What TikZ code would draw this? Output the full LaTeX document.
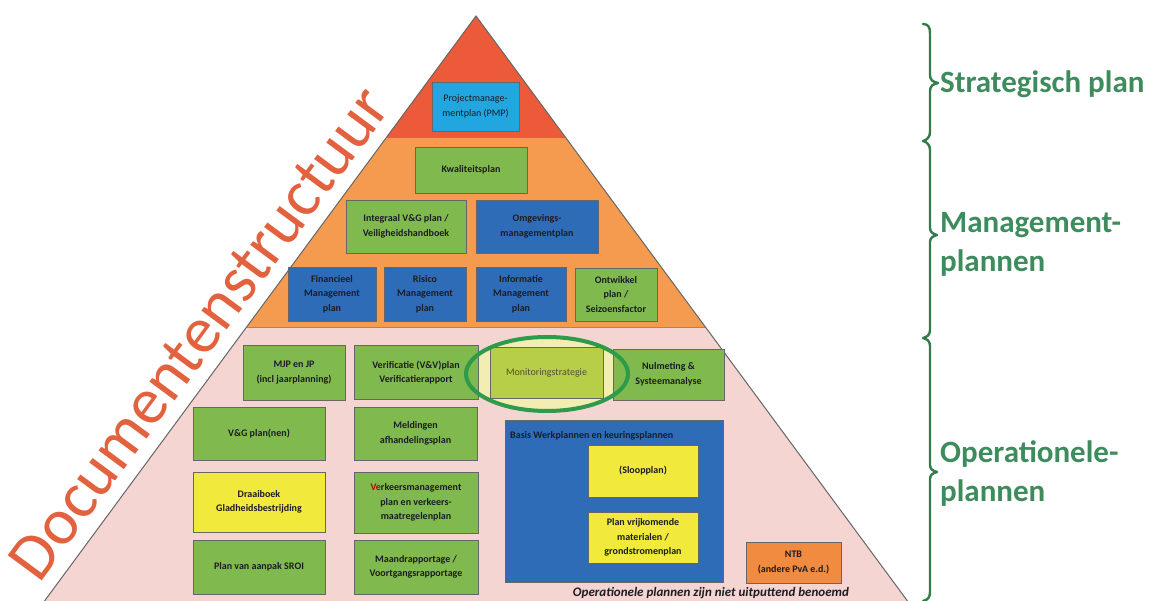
\documentclass[tikz,border=0pt]{standalone}
\usepackage{fontspec}
\setmainfont{Carlito}
\definecolor{cRed}{HTML}{EC5A39}
\definecolor{cOrange}{HTML}{F59B50}
\definecolor{cPink}{HTML}{F4D5D2}
\definecolor{cGreen}{HTML}{80BA4E}
\definecolor{cBlue}{HTML}{2F6CB8}
\definecolor{cLBlue}{HTML}{22A6DF}
\definecolor{cYellow}{HTML}{F1EA3D}
\definecolor{cNTB}{HTML}{F08B40}
\definecolor{cMon}{HTML}{B7CF48}
\definecolor{cPale}{HTML}{F2EDB2}
\definecolor{cEll}{HTML}{2E9A4B}
\definecolor{cBrace}{HTML}{327C4C}
\definecolor{cLabel}{HTML}{3E8C5D}
\definecolor{cDoc}{HTML}{E2623F}
\definecolor{cText}{HTML}{1C1C24}
\begin{document}
\begin{tikzpicture}[x=1pt,y=-1pt,
  boxfont/.style={font=\fontsize{10}{14.5}\selectfont\bfseries},
  box/.style={draw=black!60, line width=0.8pt, align=center, inner sep=1pt, text=cText, boxfont},
  gbox/.style={box, fill=cGreen},
  bbox/.style={box, fill=cBlue},
  ybox/.style={box, fill=cYellow},
  lab/.style={font=\fontsize{31}{39.5}\selectfont\bfseries, text=cLabel, inner sep=0pt, align=left, anchor=north west}]
\useasboundingbox (0,0) rectangle (1156,601);
\clip (0,0) rectangle (1156,601);
\fill[white] (0,0) rectangle (1156,601);
% pyramid
\coordinate (apex) at (476,16);
\coordinate (bl) at (30.5,620);
\coordinate (br) at (921.5,620);
\coordinate (o1) at (386,138);
\coordinate (o2) at (566,138);
\coordinate (p1) at (246.6,327);
\coordinate (p2) at (705.4,327);
\fill[cPink] (bl) -- (p1) -- (p2) -- (br) -- cycle;
\fill[cOrange] (p1) -- (o1) -- (o2) -- (p2) -- cycle;
\fill[cRed] (o1) -- (apex) -- (o2) -- cycle;
\draw[black!45, line width=0.6pt] (p1) -- (p2);
\draw[black!60, line width=1pt] (bl) -- (apex) -- (br);
% ellipse background
\fill[cPale] (547,374) ellipse [x radius=81pt, y radius=37pt];
% strategic
\node[box, fill=cLBlue, font=\fontsize{10}{14.5}\selectfont, minimum width=87pt, minimum height=49pt] (pmp) at (475.5,106.5) {Projectmanage-\\mentplan (PMP)};
% management
\node[gbox, minimum width=112pt, minimum height=46pt] (kwal) at (471,170) {Kwaliteitsplan};
\node[gbox, minimum width=120pt, minimum height=53pt] (ivg) at (406,226.5) {Integraal V\&G plan /\\Veiligheidshandboek};
\node[bbox, minimum width=122pt, minimum height=53pt] (omg) at (537,226.5) {Omgevings-\\managementplan};
\node[bbox, minimum width=88pt, minimum height=54pt] (fin) at (332,294) {Financieel\\Management\\plan};
\node[bbox, minimum width=82pt, minimum height=54pt] (ris) at (425,294) {Risico\\Management\\plan};
\node[bbox, minimum width=90pt, minimum height=54pt] (inf) at (521,294) {Informatie\\Management\\plan};
\node[gbox, minimum width=82pt, minimum height=53pt] (ont) at (616,294.5) {Ontwikkel\\plan /\\Seizoensfactor};
% operational
\node[gbox, minimum width=102pt, minimum height=55pt] (mjp) at (294,372.5) {MJP en JP\\(incl jaarplanning)};
\node[gbox, minimum width=124pt, minimum height=54pt] (ver) at (416,372.5) {Verificatie (V\&V)plan\\Verificatierapport};
\node[box, fill=cMon, text=black!55!olive, font=\fontsize{10}{14.5}\selectfont, minimum width=113pt, minimum height=51pt] (mon) at (546.5,372.5) {Monitoringstrategie};
\node[gbox, minimum width=111pt, minimum height=51pt] (nul) at (668.5,374.5) {Nulmeting \&\\Systeemanalyse};
\draw[cEll, line width=4pt] (547,374) ellipse [x radius=81pt, y radius=37pt];
\node[gbox, minimum width=132pt, minimum height=53pt] (vg) at (259,433.5) {V\&G plan(nen)};
\node[gbox, minimum width=123pt, minimum height=53pt] (meld) at (415.5,433.5) {Meldingen\\afhandelingsplan};
\node[ybox, minimum width=132pt, minimum height=60pt] (draai) at (259,502) {Draaiboek\\Gladheidsbestrijding};
\node[gbox, minimum width=124pt, minimum height=61pt] (verk) at (416,502.5) {{\color{red!75!black}Ve}rkeersmanagement\\plan en verkeers-\\maatregelenplan};
\node[gbox, minimum width=132pt, minimum height=54pt] (sroi) at (259,567) {Plan van aanpak SROI};
\node[gbox, minimum width=124pt, minimum height=54pt] (maand) at (416,567) {Maandrapportage /\\Voortgangsrapportage};
\node[bbox, minimum width=218pt, minimum height=162pt] (basis) at (614,501) {};
\node[boxfont, text=cText, anchor=west, inner sep=0pt] (basislab) at (510,436) {Basis Werkplannen en keuringsplannen};
\node[ybox, minimum width=110pt, minimum height=52pt] (sloop) at (643,471) {(Sloopplan)};
\node[ybox, minimum width=110pt, minimum height=51pt] (vrij) at (643,537.5) {Plan vrijkomende\\materialen /\\grondstromenplan};
\node[box, fill=cNTB, minimum width=95pt, minimum height=41pt] (ntb) at (793.5,562.5) {NTB\\(andere PvA e.d.)};
\node[font=\fontsize{13}{15}\selectfont\bfseries\itshape, text=cText, anchor=base, inner sep=0pt] (cap) at (711,596) {Operationele plannen zijn niet uitputtend benoemd};
% diagonal title
\node[font=\fontsize{66}{66}\selectfont, text=cDoc, rotate=53.5, inner sep=0pt] (doc) at (199,333) {Documentenstructuur};
% brace
\draw[cBrace, line width=2.4pt, line cap=round, line join=round]
 (923,24) .. controls (928,24) and (930,27) .. (930,33)
 -- (930,75) .. controls (930,80) and (933,82) .. (938,83)
 .. controls (933,84) and (930,86) .. (930,91)
 -- (930,132) .. controls (930,137) and (927,140) .. (923,141)
 .. controls (927,142) and (930,145) .. (930,150)
 -- (930,228) .. controls (930,232) and (933,234) .. (937,235)
 .. controls (933,236) and (930,238) .. (930,242)
 -- (930,330) .. controls (930,335) and (927,337) .. (923,338)
 .. controls (927,339) and (930,341) .. (930,346)
 -- (930,465) .. controls (930,469) and (933,471) .. (937,472)
 .. controls (933,473) and (930,475) .. (930,479)
 -- (930,592) .. controls (930,597) and (928,600) .. (923,601);
% labels
\node[lab] (lstrat) at (940,70.5) {Strategisch plan};
\node[lab] (lman) at (940,212) {Management-\\plannen};
\node[lab] (lops) at (940,440.5) {Operationele-\\plannen};
\end{tikzpicture}
\end{document}
